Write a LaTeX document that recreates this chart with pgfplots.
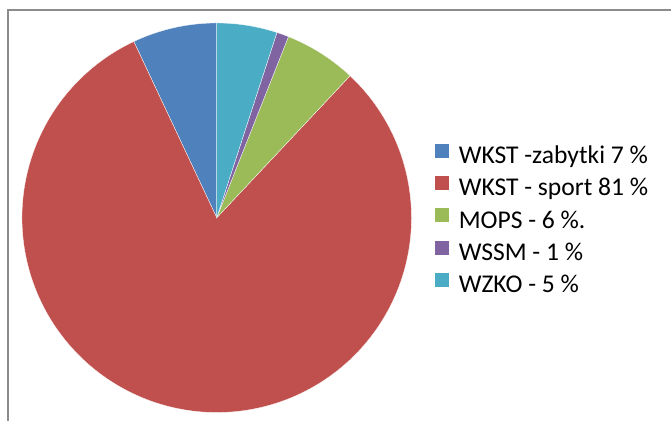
\documentclass[border=0pt]{standalone}
\usepackage{pgfplots}
\pgfplotsset{compat=1.18}
\usepackage{fontspec}
\setmainfont{Carlito}
\definecolor{c1}{HTML}{4F81BD}
\definecolor{c2}{HTML}{C0504D}
\definecolor{c3}{HTML}{9BBB59}
\definecolor{c4}{HTML}{8064A2}
\definecolor{c5}{HTML}{4BACC6}
\definecolor{frame}{HTML}{8C8C8C}
% values (percent)
\def\vA{7}\def\vB{81}\def\vC{6}\def\vD{1}\def\vE{5}
\pgfmathsetmacro{\aA}{90}
\pgfmathsetmacro{\aB}{\aA+3.6*\vA}
\pgfmathsetmacro{\aC}{\aB+3.6*\vB}
\pgfmathsetmacro{\aD}{\aC+3.6*\vC}
\pgfmathsetmacro{\aE}{\aD+3.6*\vD}
\pgfmathsetmacro{\aF}{\aE+3.6*\vE}
\def\cx{217}\def\cy{204}\def\R{195}
\begin{document}
\begin{tikzpicture}
\begin{axis}[
  scale only axis, width=672pt, height=422pt,
  xmin=0, xmax=672, ymin=0, ymax=422,
  hide axis, clip=false,
  legend cell align=left,
  legend image code/.code={\fill[#1] (0pt,-1pt) rectangle (15pt,14pt);},
  legend style={draw=none, fill=none, inner sep=0pt, outer sep=0pt,
    at={(axis cs:435,279)}, anchor=north west,
    font=\fontsize{25.6}{30}\selectfont,
    nodes={inner sep=0pt, text height=19pt, text depth=6pt},
    row sep=5.7pt, column sep=9pt},
]
\addplot[forget plot, draw=none] coordinates {(0,0) (672,422)};
\addplot[forget plot, draw=frame, line width=1.6pt] coordinates {(8,0) (8,412) (672,412)};
\addplot[fill=c1, draw=white, line width=0.3pt, domain=\aA:\aB, samples=40, variable=\t]
  ({\cx+\R*cos(t)}, {\cy+\R*sin(t)}) -- (axis cs:\cx,\cy) -- cycle;
\addlegendentry{WKST -zabytki 7 \%}
\addplot[fill=c2, draw=white, line width=0.3pt, domain=\aB:\aC, samples=200, variable=\t]
  ({\cx+\R*cos(t)}, {\cy+\R*sin(t)}) -- (axis cs:\cx,\cy) -- cycle;
\addlegendentry{WKST - sport 81 \%}
\addplot[fill=c3, draw=white, line width=0.3pt, domain=\aC:\aD, samples=30, variable=\t]
  ({\cx+\R*cos(t)}, {\cy+\R*sin(t)}) -- (axis cs:\cx,\cy) -- cycle;
\addlegendentry{MOPS - 6 \%.}
\addplot[fill=c4, draw=white, line width=0.3pt, domain=\aD:\aE, samples=10, variable=\t]
  ({\cx+\R*cos(t)}, {\cy+\R*sin(t)}) -- (axis cs:\cx,\cy) -- cycle;
\addlegendentry{WSSM - 1 \%}
\addplot[fill=c5, draw=white, line width=0.3pt, domain=\aE:\aF, samples=30, variable=\t]
  ({\cx+\R*cos(t)}, {\cy+\R*sin(t)}) -- (axis cs:\cx,\cy) -- cycle;
\addlegendentry{WZKO - 5 \%}
\end{axis}
\end{tikzpicture}
\end{document}
